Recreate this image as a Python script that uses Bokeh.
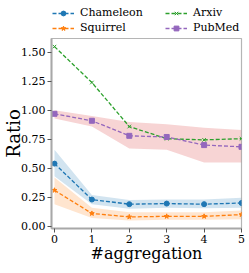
from bokeh.plotting import figure
from bokeh.layouts import column
from bokeh.models import Range1d, Legend, LegendItem, FixedTicker, NumeralTickFormatter
from bokeh.embed import file_html
from bokeh.resources import INLINE

# ---- data ----
aggregations = [0, 1, 2, 3, 4, 5]

chameleon = [0.54, 0.23, 0.19, 0.195, 0.19, 0.20]
chameleon_lo = [0.43, 0.19, 0.15, 0.16, 0.155, 0.16]
chameleon_hi = [0.66, 0.27, 0.225, 0.23, 0.23, 0.245]

squirrel = [0.31, 0.11, 0.08, 0.085, 0.085, 0.10]
squirrel_lo = [0.19, 0.07, 0.05, 0.055, 0.055, 0.06]
squirrel_hi = [0.42, 0.16, 0.12, 0.12, 0.12, 0.135]

arxiv = [1.55, 1.24, 0.86, 0.755, 0.745, 0.755]

pubmed = [0.97, 0.91, 0.78, 0.77, 0.70, 0.685]
pubmed_lo = [0.93, 0.86, 0.67, 0.66, 0.55, 0.55]
pubmed_hi = [1.00, 0.95, 0.90, 0.88, 0.85, 0.83]

x_ticks = [0, 1, 2, 3, 4, 5]
y_ticks = [0.0, 0.25, 0.5, 0.75, 1.0, 1.25, 1.5]

series_names = ["Chameleon", "Squirrel", "Arxiv", "PubMed"]
series_values = [chameleon, squirrel, arxiv, pubmed]
colors = ["#1f77b4", "#ff7f0e", "#2ca02c", "#9467bd"]
markers = ["circle", "star", "x", "square"]
marker_sizes = [5, 5, 5, 5]

FONT = "DejaVu Serif"
W = 249

p = figure(width=W, height=228, output_backend="svg", toolbar_location=None,
           x_range=Range1d(-0.08, 5.0), y_range=Range1d(-0.02, 1.62),
           min_border_left=49, min_border_right=8, min_border_top=1, min_border_bottom=36,
           x_axis_label="#aggregation", y_axis_label="Ratio")

p.xgrid.visible = False
p.ygrid.visible = False
p.outline_line_color = "#b5b5b5"
p.outline_line_width = 1.2

for ax in (p.xaxis[0], p.yaxis[0]):
    ax.axis_line_color = "#a8a8a8"
    ax.axis_line_width = 2
    ax.major_tick_line_color = "#555555"
    ax.major_tick_out = 4
    ax.major_tick_in = 0
    ax.minor_tick_line_color = None
    ax.major_label_text_font = FONT
    ax.major_label_text_font_size = "11px"
    ax.major_label_text_color = "black"
    ax.major_label_standoff = 2
    ax.axis_label_text_font = FONT
    ax.axis_label_text_font_style = "normal"
    ax.axis_label_text_color = "black"

p.xaxis.axis_label_text_font_size = "16px"
p.xaxis.axis_label_standoff = -2
p.yaxis.axis_label_text_font_size = "18px"
p.yaxis.axis_label_standoff = -6

p.xaxis.ticker = FixedTicker(ticks=x_ticks)
p.yaxis.ticker = FixedTicker(ticks=y_ticks)
p.yaxis.formatter = NumeralTickFormatter(format="0.00")

# bands
p.varea(x=aggregations, y1=chameleon_lo, y2=chameleon_hi, fill_color="#1f77b4", fill_alpha=0.2)
p.varea(x=aggregations, y1=squirrel_lo, y2=squirrel_hi, fill_color="#ff7f0e", fill_alpha=0.2)
p.varea(x=aggregations, y1=pubmed_lo, y2=pubmed_hi, fill_color="#d62728", fill_alpha=0.2)

for ys, color, marker, size in zip(series_values, colors, markers, marker_sizes):
    p.line(aggregations, ys, line_color=color, line_width=1.3, line_dash="4 2")
    p.scatter(aggregations, ys, marker=marker, size=size, fill_color=color,
              line_color=color, line_width=1)

# ---- legend strip above the plot (its renderers sit outside its visible range) ----
lf = figure(width=W, height=37, output_backend="svg", toolbar_location=None,
            x_range=Range1d(0, 5), y_range=Range1d(10, 11),
            x_axis_type=None, y_axis_type=None,
            min_border_left=0, min_border_right=0, min_border_top=0, min_border_bottom=0)
lf.outline_line_color = None
lf.xgrid.visible = False
lf.ygrid.visible = False

items = {}
for name, ys, color, marker, size in zip(series_names, series_values, colors, markers, marker_sizes):
    ln = lf.line(aggregations, ys, line_color=color, line_width=1.3, line_dash="4 2")
    sc = lf.scatter(aggregations, ys, marker=marker, size=size, fill_color=color,
                    line_color=color, line_width=1)
    items[name] = LegendItem(label=name, renderers=[ln, sc])

def make_legend(its, loc):
    lg = Legend(items=its, location=loc, orientation="vertical")
    lg.label_text_font = FONT
    lg.label_text_font_size = "11px"
    lg.label_text_color = "black"
    lg.label_height = 12
    lg.glyph_height = 12
    lg.glyph_width = 22
    lg.label_standoff = 6
    lg.spacing = 2
    lg.padding = 0
    lg.margin = 0
    lg.border_line_alpha = 0
    lg.background_fill_alpha = 0
    return lg

lf.add_layout(make_legend([items["Chameleon"], items["Squirrel"]], (1, 3)))
lf.add_layout(make_legend([items["Arxiv"], items["PubMed"]], (114, 3)))

layout = column(lf, p, spacing=0)

open("out.html", "w").write(file_html(layout, INLINE))
